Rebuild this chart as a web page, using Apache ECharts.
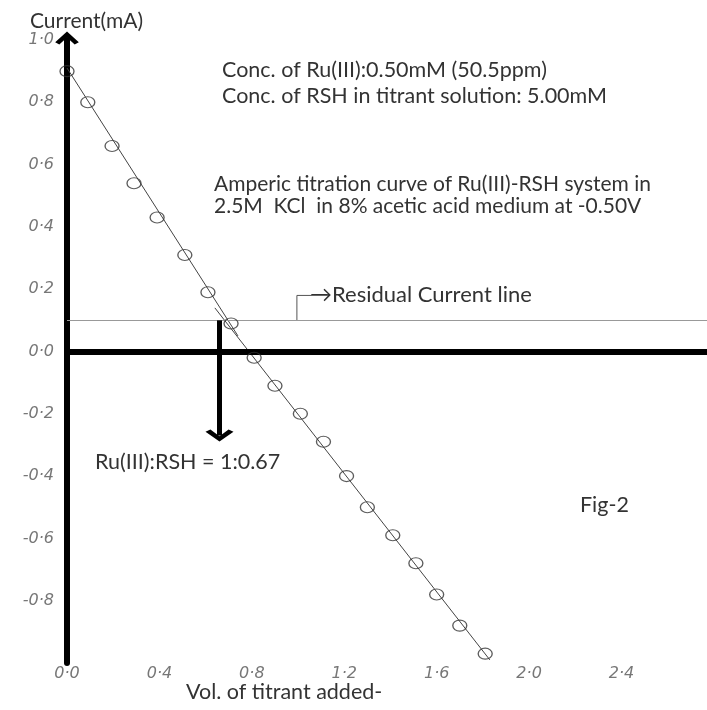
<!DOCTYPE html>
<html>
<head>
<meta charset="utf-8">
<script src="https://cdn.jsdelivr.net/npm/echarts@6/dist/echarts.min.js"></script>
<style>
html,body{margin:0;padding:0;background:#fff;}
#main{width:707px;height:710px;}
</style>
</head>
<body>
<div id="main"></div>
<script>
// titrant volume / current readings (open circles)
var volX = [0.0, 0.09, 0.195, 0.29, 0.39, 0.51, 0.61, 0.71, 0.81, 0.90, 1.01, 1.11, 1.21, 1.30, 1.41, 1.51, 1.60, 1.70, 1.81];
var currentY = [0.90, 0.80, 0.66, 0.54, 0.43, 0.31, 0.19, 0.09, -0.02, -0.11, -0.20, -0.29, -0.40, -0.50, -0.59, -0.68, -0.78, -0.88, -0.97];
// hand drawn fit lines (two branches)
var upperFit = [[0.0, 0.91], [0.74, 0.05]];
var lowerFit = [[0.64, 0.14], [1.83, -0.99]];
var residual = 0.1;
var endPoint = 0.66;
var bracket = [[0.995, 0.1], [0.995, 0.18], [1.06, 0.18]];
var xTicks = [0.0, 0.4, 0.8, 1.2, 1.6, 2.0, 2.4];
var yTicks = [-0.8, -0.6, -0.4, -0.2, 0.0, 0.2, 0.4, 0.6, 0.8, 1.0];

var chevron = 'path://M0,9 L10,0 L20,9 L16.5,11 L10,5 L3.5,11 Z';
var txtFont = 'Lato, "Open Sans", sans-serif';

function tickFmt(v){
	return v.toFixed(1).replace('.', '\u00b7');
}

function note(x, y, s, size){
	return {
		type: 'text', x: x, y: y, silent: true,
		style: {text: s, font: (size || 21.5) + 'px ' + txtFont, fill: '#333', verticalAlign: 'middle', align: 'left'}
	};
}

var points = volX.map(function(x, i){ return [x, currentY[i]]; });

var myChart = echarts.init(document.getElementById('main'));

var option = {
	animation: false,
	backgroundColor: '#fff',
	grid: {left: 67, right: 0, top: 40, bottom: 47},
	xAxis: {
		type: 'value', min: 0, max: 2.77, interval: 0.4,
		splitLine: {show: false},
		axisTick: {show: false},
		axisLine: {lineStyle: {color: '#000', width: 6}},
		axisLabel: {
			color: '#777', fontSize: 16, fontFamily: 'DejaVu Sans', fontStyle: 'italic',
			margin: 3, showMaxLabel: false,
			formatter: function(v){ return xTicks.indexOf(+v.toFixed(1)) >= 0 ? tickFmt(v) : ''; }
		}
	},
	yAxis: {
		type: 'value', min: -1, max: 1, interval: 0.2,
		splitLine: {show: false},
		axisTick: {show: false},
		axisLine: {
			show: true, onZero: false,
			lineStyle: {color: '#000', width: 6},
			symbol: ['none', chevron], symbolSize: [30, 13], symbolOffset: [0, 2]
		},
		axisLabel: {
			color: '#777', fontSize: 16, fontFamily: 'DejaVu Sans', fontStyle: 'italic',
			margin: 13, showMinLabel: false,
			formatter: function(v){ return yTicks.indexOf(+v.toFixed(1)) >= 0 ? tickFmt(v) : ''; }
		}
	},
	series: [
		{
			type: 'line', data: upperFit, symbol: 'none', silent: true,
			lineStyle: {color: '#444', width: 1},
			markLine: {
				silent: true, symbol: 'none', label: {show: false},
				data: [
					{yAxis: 0, lineStyle: {color: '#000', width: 6, type: 'solid'}},
					{yAxis: residual, lineStyle: {color: '#999', width: 1, type: 'solid'}}
				]
			}
		},
		{
			type: 'line', data: lowerFit, symbol: 'none', silent: true,
			lineStyle: {color: '#444', width: 1}
		},
		{
			type: 'line', data: bracket, symbol: 'none', silent: true,
			lineStyle: {color: '#555', width: 1}
		},
		{
			type: 'line', data: [], silent: true,
			markLine: {
				silent: true, label: {show: false},
				symbol: ['none', chevron], symbolSize: [28, 12],
				lineStyle: {color: '#000', width: 5, type: 'solid'},
				itemStyle: {color: '#000'},
				data: [[{coord: [endPoint, residual]}, {coord: [endPoint, -0.27]}]]
			}
		},
		{
			type: 'scatter', data: points, symbol: 'circle', symbolSize: [14, 11],
			itemStyle: {color: 'rgba(255,255,255,0)', borderColor: '#333', borderWidth: 1.2},
			z: 5
		}
	],
	graphic: [
		note(30, 21, 'Current(mA)', 21),
		note(222, 70, 'Conc. of Ru(III):0.50mM (50.5ppm)'),
		note(222, 96, 'Conc. of RSH in titrant solution: 5.00mM'),
		note(214, 184, 'Amperic titration curve of Ru(III)-RSH system in', 21),
		note(214, 206, '2.5M  KCl  in 8% acetic acid medium at -0.50V', 21),
		note(310, 295, '\u2192Residual Current line', 22),
		note(95, 462, 'Ru(III):RSH = 1:0.67'),
		note(580, 505, 'Fig-2'),
		note(186, 692, 'Vol. of titrant added-')
	]
};
myChart.setOption(option);
</script>
</body>
</html>
